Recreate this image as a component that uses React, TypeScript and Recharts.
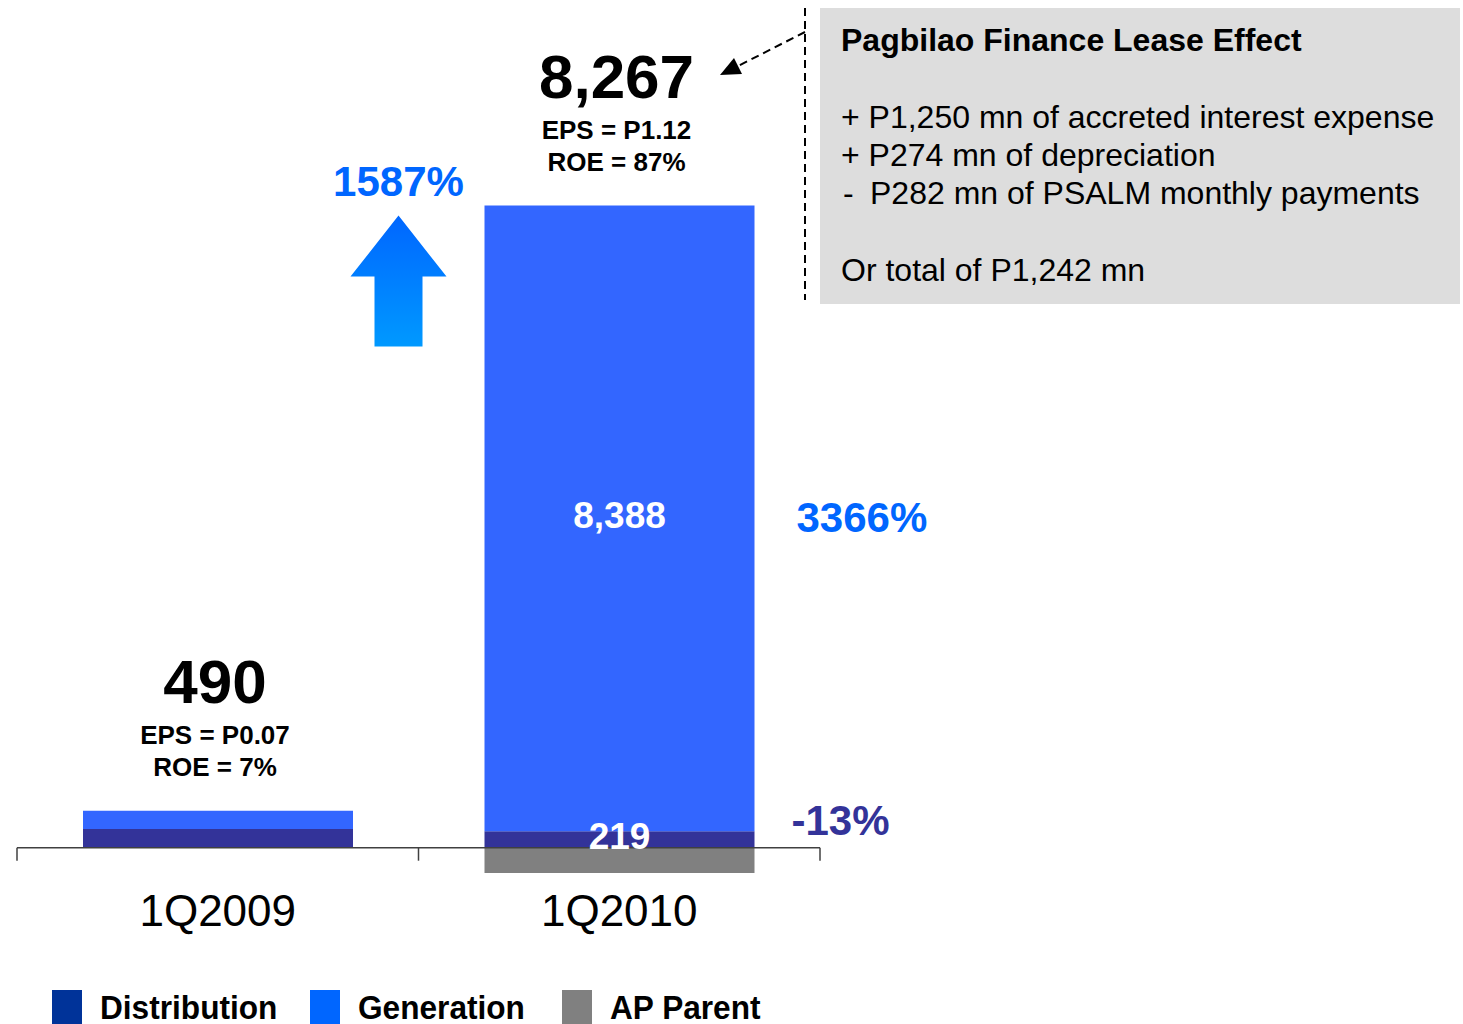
import { BarChart, Bar, XAxis, YAxis, ReferenceLine, LabelList, Legend } from "recharts";

const quarters = ["1Q2009", "1Q2010"];
const distribution = [252, 219];
const generation = [242, 8388];
const apParent = [-4, -340];
const totals = ["490", "8,267"];
const eps = ["P0.07", "P1.12"];
const roe = ["7%", "87%"];
const generationChange = ["", "3366%"];
const distributionChange = ["", "-13%"];
const netIncomeChange = ["", "1587%"];

const seriesNames = ["Distribution", "Generation", "AP Parent"];
const barColors = ["#333399", "#3366FF", "#808080"];
const legendColors = ["#003399", "#0066FF", "#808080"];

const noteTitle = "Pagbilao Finance Lease Effect";
const noteLines = [
  "+ P1,250 mn of accreted interest expense",
  "+ P274 mn of depreciation",
];
const noteMinusLine = "P282 mn of PSALM monthly payments";
const noteTotal = "Or total of P1,242 mn";

const data = quarters.map((q, i) => ({
  quarter: q,
  distribution: distribution[i],
  generation: generation[i],
  apParent: apParent[i],
}));

const FONT = "'Liberation Sans', Arial, sans-serif";

// baseline for text whose cap-height centre should sit on cy
const mid = (cy: number, size: number) => cy + size * 0.358;

const idx = (p: any, arr: number[]) => (p.index ?? arr.indexOf(Number(p.value)));

function TopLabel(p: any) {
  const i = idx(p, generation);
  const cx = p.x + p.width / 2;
  const top = p.y;
  return (
    <g fontFamily={FONT} fontWeight="bold" textAnchor="middle" fill="#000">
      <text x={cx - 3} y={mid(top - 130, 62)} fontSize={62}>{totals[i]}</text>
      <text x={cx - 3} y={mid(top - 76, 26)} fontSize={26}>EPS = {eps[i]}</text>
      <text x={cx - 3} y={mid(top - 44, 26)} fontSize={26}>ROE = {roe[i]}</text>
      {i > 0 && (
        <>
          <text x={cx} y={mid(top + p.height / 2 - 4, 37)} fontSize={37} fill="#fff">
            {generation[i].toLocaleString("en-US")}
          </text>
          <text x={p.x + p.width + 42} y={mid(top + p.height / 2 - 2, 42)} fontSize={42} fill="#0066FF" textAnchor="start">
            {generationChange[i]}
          </text>
          <defs>
            <linearGradient id="upArrow" x1="0" y1="0" x2="0" y2="1">
              <stop offset="0%" stopColor="#0066FF" />
              <stop offset="100%" stopColor="#0099FF" />
            </linearGradient>
          </defs>
          <text x={p.x - 86} y={mid(top - 25, 42)} fontSize={42} fill="#0066FF">{netIncomeChange[i]}</text>
          <path
            d={`M ${p.x - 86} ${top + 10} L ${p.x - 38} ${top + 71} L ${p.x - 62} ${top + 71} L ${p.x - 62} ${top + 141} L ${p.x - 110} ${top + 141} L ${p.x - 110} ${top + 71} L ${p.x - 134} ${top + 71} Z`}
            fill="url(#upArrow)"
          />
        </>
      )}
    </g>
  );
}

function DistLabel(p: any) {
  const i = idx(p, distribution);
  if (!distributionChange[i]) return null;
  const cy = p.y + p.height / 2;
  return (
    <g fontFamily={FONT} fontWeight="bold">
      <text x={p.x + p.width / 2} y={mid(cy - 4, 37)} fontSize={37} fill="#fff" textAnchor="middle">
        {distribution[i]}
      </text>
      <text x={p.x + p.width + 37} y={mid(cy - 20, 42)} fontSize={42} fill="#333399">
        {distributionChange[i]}
      </text>
    </g>
  );
}

function AxisLine(p: any) {
  const { x1, x2, y1 } = p;
  const xm = (x1 + x2) / 2;
  return (
    <g stroke="#404040" strokeWidth={1.5}>
      <line x1={x1} x2={x2} y1={y1} y2={y1} />
      {[x1, xm, x2].map((x, k) => (
        <line key={k} x1={x} x2={x} y1={y1} y2={y1 + 13} />
      ))}
    </g>
  );
}

const legendItemWidths = [258, 252, 250];

function LegendContent() {
  return (
    <div style={{ display: "flex", alignItems: "flex-start", fontFamily: FONT, fontWeight: "bold", fontSize: 34, height: 32 }}>
      {seriesNames.map((n, k) => (
        <div key={n} style={{ display: "flex", alignItems: "flex-start", width: legendItemWidths[k] }}>
          <div style={{ width: 30, height: 34, background: legendColors[k], marginRight: 18, flex: "none" }} />
          <span
            style={{
              lineHeight: "28px",
              marginTop: 3,
              display: "inline-block",
              whiteSpace: "nowrap",
              transform: "scaleX(0.93)",
              transformOrigin: "left top",
            }}
          >
            {n}
          </span>
        </div>
      ))}
    </div>
  );
}

function Note() {
  return (
    <g fontFamily={FONT} fill="#000">
      <line x1={805} y1={8} x2={805} y2={300} stroke="#000" strokeWidth={2} strokeDasharray="8 5" />
      <line x1={805} y1={32} x2={738} y2={66} stroke="#000" strokeWidth={2} strokeDasharray="8 5" />
      <path d="M 720 75 L 742 74 L 734 58 Z" fill="#000" />
      <rect x={820} y={8} width={640} height={296} fill="#DDDDDD" />
      <text x={841} y={mid(40, 32)} fontSize={32} fontWeight="bold">{noteTitle}</text>
      {noteLines.map((t, k) => (
        <text key={k} x={841} y={mid(117 + k * 38, 32)} fontSize={32}>{t}</text>
      ))}
      <text x={843} y={mid(193, 32)} fontSize={32}>-</text>
      <text x={870} y={mid(193, 32)} fontSize={32}>{noteMinusLine}</text>
      <text x={841} y={mid(270, 32)} fontSize={32}>{noteTotal}</text>
    </g>
  );
}

export default function App() {
  return (
    <div style={{ position: "absolute", left: 0, top: 0, width: 1463, height: 1024, background: "#fff" }}>
      <BarChart
        width={1463}
        height={1024}
        data={data}
        stackOffset="sign"
        barSize={270}
        margin={{ top: 139, right: 643, left: 17, bottom: 47 }}
      >
        <YAxis hide domain={[-500, 9500]} />
        <XAxis
          dataKey="quarter"
          axisLine={false}
          tickLine={false}
          height={60}
          tickMargin={4}
          tick={{ fontSize: 44, fill: "#000", fontFamily: FONT }}
        />
        <Bar dataKey="distribution" stackId="a" fill={barColors[0]} isAnimationActive={false}>
          <LabelList dataKey="distribution" content={DistLabel} />
        </Bar>
        <Bar dataKey="generation" stackId="a" fill={barColors[1]} isAnimationActive={false}>
          <LabelList dataKey="generation" content={TopLabel} />
        </Bar>
        <Bar dataKey="apParent" stackId="a" fill={barColors[2]} isAnimationActive={false} />
        <ReferenceLine y={0} shape={AxisLine} />
        <Legend
          verticalAlign="bottom"
          content={LegendContent}
          wrapperStyle={{ top: 990, left: 52, width: 900, height: 32 }}
        />
        <Note />
      </BarChart>
    </div>
  );
}
